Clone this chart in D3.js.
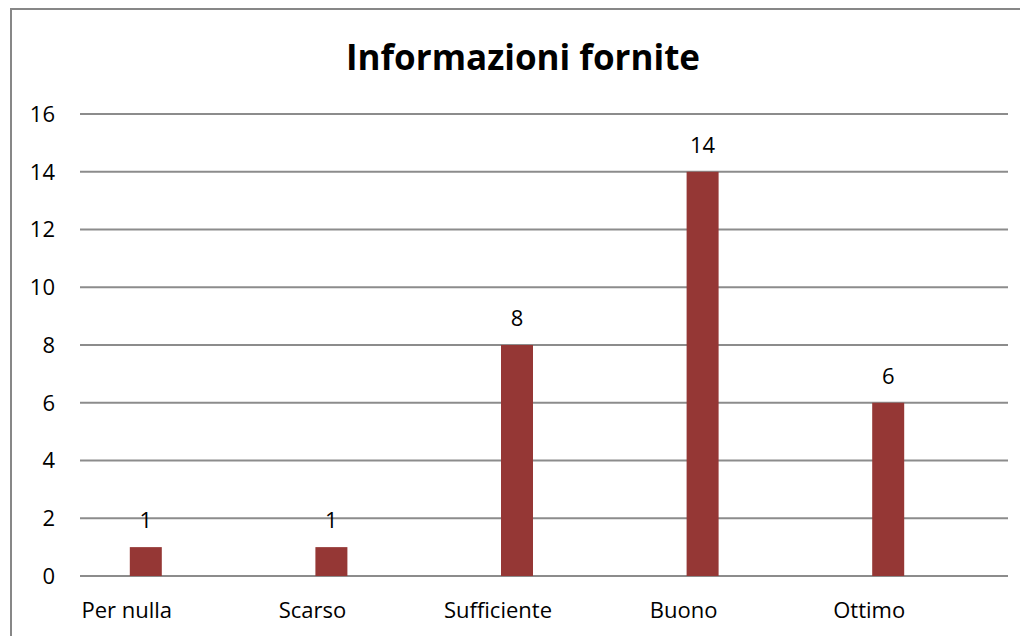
<!DOCTYPE html>
<html>
<head>
<meta charset="utf-8">
<script src="https://cdn.jsdelivr.net/npm/d3@7"></script>
<style>
  body { margin: 0; background: #fff; }
  text { font-family: "Open Sans", "Liberation Sans", sans-serif; fill: #000; }
</style>
</head>
<body>
<div id="chart"></div>
<script>
"use strict"

// data
const categories = ["Per nulla", "Scarso", "Sufficiente", "Buono", "Ottimo"];
const values = [1, 1, 8, 14, 6];
const yTicks = [0, 2, 4, 6, 8, 10, 12, 14, 16];

const W = 1020, H = 636;
const svg = d3.select("#chart").append("svg")
  .attr("width", W).attr("height", H);

// outer frame
svg.append("rect")
  .attr("x", 11).attr("y", 9)
  .attr("width", 1030).attr("height", 660)
  .attr("fill", "none")
  .attr("stroke", "#878787")
  .attr("stroke-width", 2);

// scales
const x = d3.scaleBand().domain(categories).range([53, 981]);
const y = d3.scaleLinear().domain([0, 16]).range([576, 114]);

// gridlines
svg.append("g").selectAll("line")
  .data(yTicks)
  .enter().append("line")
    .attr("x1", 80).attr("x2", 1008)
    .attr("y1", d => y(d)).attr("y2", d => y(d))
    .attr("stroke", "#8c8c8c")
    .attr("stroke-width", 2);

// y axis labels
svg.append("g").selectAll("text")
  .data(yTicks)
  .enter().append("text")
    .attr("x", 55)
    .attr("y", d => y(d))
    .attr("dy", "0.36em")
    .attr("text-anchor", "end")
    .style("font-size", "22px")
    .text(d => d);

// bars
const barW = 32;
svg.append("g").selectAll("rect")
  .data(values)
  .enter().append("rect")
    .attr("x", (d, i) => x(categories[i]) + x.bandwidth() / 2 - barW / 2)
    .attr("y", d => y(d))
    .attr("width", barW)
    .attr("height", d => y(0) - y(d))
    .attr("fill", "#953735");

// value labels
svg.append("g").selectAll("text")
  .data(values)
  .enter().append("text")
    .attr("x", (d, i) => x(categories[i]) + x.bandwidth() / 2)
    .attr("y", d => y(d) - 19)
    .attr("text-anchor", "middle")
    .style("font-size", "22px")
    .text(d => d);

// category labels (sit a bit left of the bars, as in the original)
svg.append("g").selectAll("text")
  .data(categories)
  .enter().append("text")
    .attr("x", d => x(d) + x.bandwidth() / 2 - 19)
    .attr("y", 618)
    .attr("text-anchor", "middle")
    .style("font-size", "22px")
    .text(d => d);

// title
svg.append("text")
  .attr("x", 523)
  .attr("y", 70)
  .attr("text-anchor", "middle")
  .style("font-size", "35px")
  .style("font-weight", "bold")
  .text("Informazioni fornite");
</script>
</body>
</html>
